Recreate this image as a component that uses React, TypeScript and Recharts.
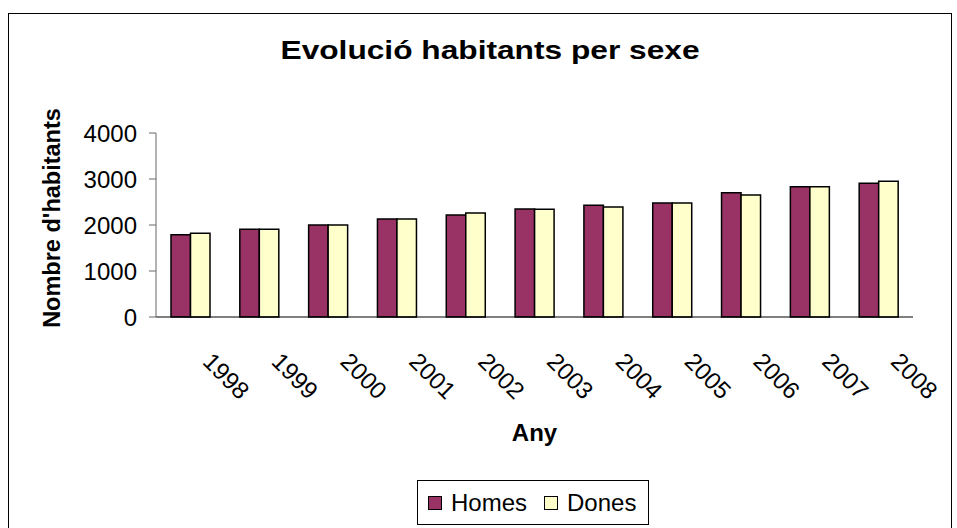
import React from "react";
import { BarChart, Bar, XAxis, YAxis, Legend } from "recharts";

// Dades llegides del gràfic
const years = ["1998", "1999", "2000", "2001", "2002", "2003", "2004", "2005", "2006", "2007", "2008"];
const homes = [1790, 1910, 2000, 2130, 2220, 2350, 2430, 2480, 2700, 2830, 2910];
const dones = [1820, 1910, 2000, 2130, 2260, 2345, 2390, 2480, 2650, 2830, 2950];
const yTicks = [0, 1000, 2000, 3000, 4000];
const seriesNames = ["Homes", "Dones"];

const data = years.map((year, i) => ({ year, homes: homes[i], dones: dones[i] }));
const edgeTicks = [...years.map((_, i) => i), years.length];

const FONT = '"Liberation Sans", Arial, sans-serif';

const YearTick = (props: any) => {
  const { x, y, payload } = props;
  return (
    <text
      transform={`translate(${x + 11},${y + 45}) rotate(45)`}
      textAnchor="start"
      fontSize={24}
      fill="#000"
      fontFamily={FONT}
    >
      {payload.value}
    </text>
  );
};

const LegendBox = (props: any) => {
  const { payload } = props;
  return (
    <div
      style={{
        border: "1px solid #000",
        boxSizing: "border-box",
        height: 45,
        width: 232,
        display: "flex",
        alignItems: "center",
        paddingLeft: 10,
        background: "#fff",
        fontSize: 24,
        fontFamily: FONT,
        color: "#000",
      }}
    >
      {(payload || []).map((p: any) => (
        <span key={p.value} style={{ display: "flex", alignItems: "center", marginRight: 17 }}>
          <span
            style={{
              width: 14,
              height: 14,
              boxSizing: "border-box",
              border: "1.5px solid #000",
              background: p.color,
              marginRight: 9,
              display: "inline-block",
            }}
          />
          {p.value}
        </span>
      ))}
    </div>
  );
};

export default function App() {
  return (
    <div
      style={{
        position: "absolute",
        left: 0,
        top: 0,
        width: 957,
        height: 528,
        overflow: "hidden",
        background: "#fff",
        fontFamily: FONT,
      }}
    >
      <div
        style={{
          position: "absolute",
          left: 8,
          top: 13,
          width: 944,
          height: 540,
          border: "1px solid #000",
          boxSizing: "border-box",
        }}
      />
      <svg width={957} height={80} style={{ position: "absolute", left: 0, top: 0 }}>
        <text
          x={490}
          y={59}
          textAnchor="middle"
          fontSize={26}
          fontWeight="bold"
          fontFamily={FONT}
          textLength={419}
          lengthAdjust="spacingAndGlyphs"
        >
          Evolució habitants per sexe
        </text>
      </svg>
      <div style={{ position: "absolute", left: 0, top: 0 }}>
        <BarChart
          width={957}
          height={528}
          data={data}
          margin={{ top: 133, right: 44, left: 0, bottom: 80 }}
          barGap={0}
          barSize={19.5}
        >
          <XAxis
            xAxisId="b"
            dataKey="year"
            height={130}
            axisLine={false}
            tickLine={false}
            tickSize={0}
            tickMargin={0}
            interval={0}
            tick={<YearTick />}
            label={{
              value: "Any",
              content: (p: any) => {
                const vb = p.viewBox;
                return (
                  <text
                    x={vb.x + vb.width / 2}
                    y={vb.y + 123}
                    textAnchor="middle"
                    fontSize={24}
                    fontWeight="bold"
                    fontFamily={FONT}
                    fill="#000"
                  >
                    Any
                  </text>
                );
              },
            }}
          />
          <XAxis
            xAxisId="a"
            type="number"
            domain={[0, years.length]}
            ticks={edgeTicks}
            tick={false}
            tickSize={7}
            height={1}
            axisLine={{ stroke: "#000", strokeWidth: 1.2 }}
            tickLine={{ stroke: "#808080" }}
          />
          <YAxis
            domain={[0, 4000]}
            ticks={yTicks}
            width={156}
            tickSize={7}
            tickMargin={12}
            axisLine={{ stroke: "#666" }}
            tickLine={{ stroke: "#666" }}
            tick={{ fontSize: 24, fill: "#000", fontFamily: FONT }}
            label={{
              value: "Nombre d'habitants",
              content: (p: any) => {
                const vb = p.viewBox;
                const cy = vb.y + vb.height / 2 - 7;
                return (
                  <text
                    transform={`translate(${vb.x + 60},${cy}) rotate(-90)`}
                    textAnchor="middle"
                    fontSize={23.5}
                    fontWeight="bold"
                    fontFamily={FONT}
                    fill="#000"
                  >
                    Nombre d'habitants
                  </text>
                );
              },
            }}
          />
          <Legend
            layout="horizontal"
            verticalAlign="middle"
            align="center"
            itemSorter={(item: any) => seriesNames.indexOf(item.value)}
            wrapperStyle={{ left: 417, top: 480, width: 232 }}
            content={<LegendBox />}
          />
          <Bar
            xAxisId="b"
            dataKey="homes"
            name={seriesNames[0]}
            fill="#993366"
            stroke="#000"
            strokeWidth={1.5}
            isAnimationActive={false}
          />
          <Bar
            xAxisId="b"
            dataKey="dones"
            name={seriesNames[1]}
            fill="#FFFFCC"
            stroke="#000"
            strokeWidth={1.5}
            isAnimationActive={false}
          />
        </BarChart>
      </div>
    </div>
  );
}
